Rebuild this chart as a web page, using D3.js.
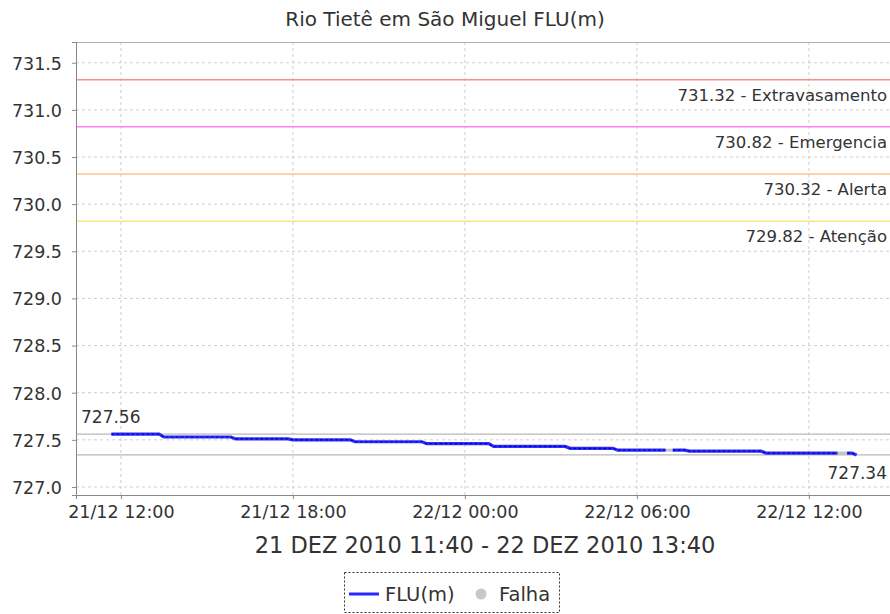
<!DOCTYPE html>
<meta charset="utf-8">
<style>
body { margin: 0; background: #fff; }
svg text { font-family: "DejaVu Sans", sans-serif; fill: #333; }
.grid line { stroke: #cfcfcf; stroke-dasharray: 3,3; }
</style>
<svg id="chart" width="890" height="614"></svg>
<script src="https://d3js.org/d3.v7.min.js"></script>
<script>

// FLU(m) readings (level changes)
var flowTimes = ["21/12 11:40","21/12 13:20","21/12 13:30","21/12 15:50","21/12 16:00","21/12 17:50",
  "21/12 18:00","21/12 20:00","21/12 20:10","21/12 22:30","21/12 22:40","22/12 00:50",
  "22/12 01:00","22/12 03:30","22/12 03:40","22/12 05:10","22/12 05:20","22/12 07:00",
  "22/12 07:15","22/12 07:40","22/12 07:50","22/12 10:20","22/12 10:30","22/12 13:00",
  "22/12 13:20","22/12 13:30","22/12 13:40"];
var flowValues = [727.56,727.56,727.53,727.53,727.51,727.51,
  727.50,727.50,727.48,727.48,727.46,727.46,
  727.43,727.43,727.41,727.41,727.39,727.39,
  727.39,727.39,727.38,727.38,727.36,727.36,
  727.36,727.36,727.34];
// gaps (Falha) start at these readings and run to the next one
var falhaStarts = ["22/12 07:00","22/12 13:00"];

var levelValues = [731.32, 730.82, 730.32, 729.82];
var levelNames = ["Extravasamento", "Emergencia", "Alerta", "Atenção"];
var levelColors = ["#ff8c8c", "#ff80ff", "#ffc58a", "#ffe38a"];

var yTicks = [727.0, 727.5, 728.0, 728.5, 729.0, 729.5, 730.0, 730.5, 731.0, 731.5];
var xTicks = ["21/12 12:00","21/12 18:00","22/12 00:00","22/12 06:00","22/12 12:00"];

var maxValue = 727.56, minValue = 727.34;

var parse = d3.timeParse("%d/%m/%Y %H:%M");
function t(s) { return parse(s.replace(" ", "/2010 ")); }

var svg = d3.select("#chart");
var pLeft = 76, pRight = 892, pTop = 42, pBottom = 495;

var x = d3.scaleTime()
    .domain([t("21/12 10:26"), t("22/12 14:54")])
    .range([pLeft, pRight]);
var y = d3.scaleLinear()
    .domain([726.915, 731.72])
    .range([pBottom, pTop]);

// title
svg.append("text")
  .attr("x", 445).attr("y", 26)
  .attr("text-anchor", "middle")
  .style("font-size", "20px")
  .text("Rio Tietê em São Miguel FLU(m)");

// grid
var grid = svg.append("g").attr("class", "grid");
grid.selectAll(".h").data(yTicks).enter().append("line")
  .attr("x1", pLeft).attr("x2", 890)
  .attr("y1", function(d){ return y(d); }).attr("y2", function(d){ return y(d); });
grid.selectAll(".v").data(xTicks).enter().append("line")
  .attr("x1", function(d){ return x(t(d)); }).attr("x2", function(d){ return x(t(d)); })
  .attr("y1", pTop).attr("y2", pBottom);

// top border
svg.append("line").attr("x1", pLeft).attr("x2", 890).attr("y1", pTop + 0.5).attr("y2", pTop + 0.5)
  .attr("stroke", "#b0b0b0");

// alert levels
var lv = svg.append("g");
levelValues.forEach(function(v, i) {
  lv.append("line")
    .attr("x1", pLeft).attr("x2", 890)
    .attr("y1", y(v)).attr("y2", y(v))
    .attr("stroke", levelColors[i]).attr("stroke-width", 1.5);
  lv.append("text")
    .attr("x", 887).attr("y", y(v) + 21)
    .attr("text-anchor", "end")
    .style("font-size", "16.5px")
    .text(v.toFixed(2) + " - " + levelNames[i]);
});

// max / min reference lines
[maxValue, minValue].forEach(function(v) {
  svg.append("line")
    .attr("x1", pLeft).attr("x2", 890)
    .attr("y1", y(v)).attr("y2", y(v))
    .attr("stroke", "#b8b8b8").attr("stroke-width", 1.2);
});
svg.append("text").attr("x", 81).attr("y", y(maxValue) - 11)
  .style("font-size", "17px").text(maxValue.toFixed(2));
svg.append("text").attr("x", 887).attr("y", y(minValue) + 24)
  .attr("text-anchor", "end")
  .style("font-size", "17px").text(minValue.toFixed(2));

// series
var pts = flowTimes.map(function(d, i){ return [t(d), flowValues[i]]; });
var line = d3.line().x(function(d){ return x(d[0]); }).y(function(d){ return y(d[1]); });
var runs = [], cur = [];
pts.forEach(function(p, i) {
  cur.push(p);
  if (falhaStarts.indexOf(flowTimes[i]) >= 0) {
    runs.push(cur); cur = [];
    svg.append("path").datum([p, pts[i + 1]])
      .attr("d", line).attr("fill", "none")
      .attr("stroke", "#c4c4c4").attr("stroke-width", 3);
  }
});
runs.push(cur);
runs.forEach(function(r) {
  svg.append("path").datum(r).attr("d", line).attr("fill", "none")
    .attr("stroke", "#3030ff").attr("stroke-width", 3.2);
  svg.append("path").datum(r).attr("d", line).attr("fill", "none")
    .attr("stroke", "#0000c0").attr("stroke-width", 1.2)
    .attr("stroke-dasharray", "3,2");
});

// axes
var yAxis = d3.axisLeft(y).tickValues(yTicks).tickSize(4).tickPadding(10)
  .tickFormat(d3.format(".1f"));
var gy = svg.append("g").attr("transform", "translate(" + pLeft + ",0)").call(yAxis);
gy.select(".domain").attr("stroke", "#888");
gy.selectAll(".tick line").attr("stroke", "#888");
gy.selectAll("text").style("font-size", "17.5px").attr("fill", "#333").attr("dy", "0.36em");

var xAxis = d3.axisBottom(x).tickValues(xTicks.map(t)).tickSize(4).tickPadding(7)
  .tickFormat(d3.timeFormat("%d/%m %H:%M"));
var gx = svg.append("g").attr("transform", "translate(0," + pBottom + ")").call(xAxis);
gx.select(".domain").attr("stroke", "#888");
gx.selectAll(".tick line").attr("stroke", "#888");
gx.selectAll("text").style("font-size", "17.5px").attr("fill", "#333");

svg.append("text")
  .attr("x", 485).attr("y", 553)
  .attr("text-anchor", "middle")
  .style("font-size", "22.5px")
  .text("21 DEZ 2010 11:40 - 22 DEZ 2010 13:40");

// legend
var lg = svg.append("g");
lg.append("rect").attr("x", 344.5).attr("y", 572.5).attr("width", 215).attr("height", 40)
  .attr("fill", "#fff").attr("stroke", "#333").attr("stroke-dasharray", "2,2");
lg.append("line").attr("x1", 349).attr("x2", 379).attr("y1", 594).attr("y2", 594)
  .attr("stroke", "#2a2aff").attr("stroke-width", 3);
lg.append("text").attr("x", 385).attr("y", 601).style("font-size", "19.5px").text("FLU(m)");
lg.append("circle").attr("cx", 481).attr("cy", 594).attr("r", 5.5).attr("fill", "#c8c8c8");
lg.append("text").attr("x", 499).attr("y", 601).style("font-size", "19.5px").text("Falha");

</script>
